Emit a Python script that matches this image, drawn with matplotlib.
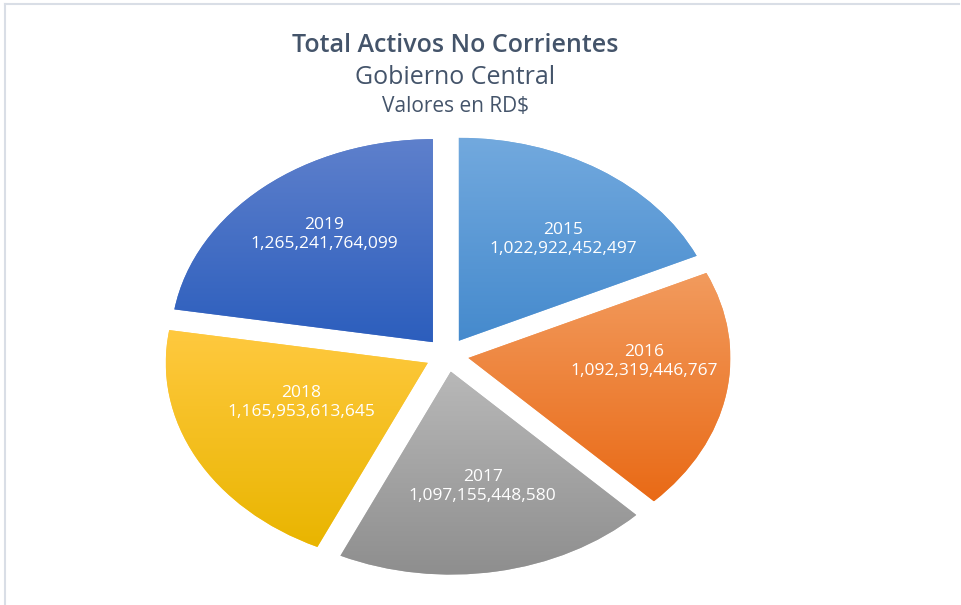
"""
Total Activos No Corrientes - Gobierno Central (pie chart with gradient slices)
"""

import numpy as np
import matplotlib
matplotlib.use('Agg')
import matplotlib.pyplot as plt
from matplotlib.colors import to_rgb
from matplotlib.lines import Line2D

# data
years = ['2015', '2016', '2017', '2018', '2019']
values = [1022922452497, 1092319446767, 1097155448580, 1165953613645, 1265241764099]

# gradient colours per slice (top -> bottom)
top_colors = ['#72A9DE', '#F29B5E', '#B8B8B8', '#FFC93F', '#5E80CC']
bottom_colors = ['#458ACD', '#E96A16', '#8E8E8E', '#E9B500', '#2C5EBD']

# label placement inside each slice (radius, angle tweak in degrees)
label_r = [0.64, 0.67, 0.58, 0.52, 0.675]
label_dang = [-6, 8.6, 2, -6, -2.4]

W, H = 961, 605
fig = plt.figure(figsize=(W / 100, H / 100), dpi=100)

# pie centre ~ (447, 355) px, radius 262 px wide and 203 px tall
cx, cy, rx, ry = 447, H - 355, 262, 203
xlim = (-1.3, 1.3)
ylim = (-1.2, 1.3)
ax = fig.add_axes([(cx + xlim[0] * rx) / W, (cy + ylim[0] * ry) / H,
                   (xlim[1] - xlim[0]) * rx / W, (ylim[1] - ylim[0]) * ry / H])

wedges, _ = ax.pie(values, startangle=90, counterclock=False,
                   explode=[0.083] * len(values), colors=top_colors,
                   wedgeprops=dict(linewidth=0))

for w, c0, c1, yr, v, lr, da in zip(wedges, top_colors, bottom_colors,
                                     years, values, label_r, label_dang):
    ext = w.get_path().get_extents()
    t = np.linspace(0, 1, 256)[:, None, None]
    grad = (1 - t) * np.array(to_rgb(c0)) + t * np.array(to_rgb(c1))
    im = ax.imshow(grad, extent=[ext.x0, ext.x1, ext.y0, ext.y1],
                   aspect='auto', origin='upper', zorder=2,
                   interpolation='bilinear')
    im.set_clip_path(w)

    mid = np.deg2rad((w.theta1 + w.theta2) / 2 + da)
    x = w.center[0] + lr * np.cos(mid)
    y = w.center[1] + lr * np.sin(mid)
    ax.text(x, y, f'{yr}\n{v:,}', ha='center', va='center', color='white',
            fontsize=12.5, family='Open Sans', linespacing=1.25, zorder=3)

ax.set_aspect('auto')
ax.set_xlim(*xlim)
ax.set_ylim(*ylim)
ax.axis('off')

title_color = '#44546A'
tx = 455 / W
fig.text(tx, 1 - 46 / H, 'Total Activos No Corrientes', ha='center', va='center',
         fontsize=18, fontweight='semibold', family='Open Sans', color=title_color)
fig.text(tx, 1 - 77 / H, 'Gobierno Central', ha='center', va='center',
         fontsize=18, family='Open Sans', color=title_color)
fig.text(tx, 1 - 106 / H, 'Valores en RD$', ha='center', va='center',
         fontsize=15, family='Open Sans', color=title_color)

# chart area border (top and left edges visible)
border = '#D9DEE6'
fig.add_artist(Line2D([5 / W, 959 / W], [1 - 4 / H, 1 - 4 / H], color=border, lw=1.5))
fig.add_artist(Line2D([5 / W, 5 / W], [0, 1 - 4 / H], color=border, lw=1.5))

fig.savefig('out.png', dpi=100)
